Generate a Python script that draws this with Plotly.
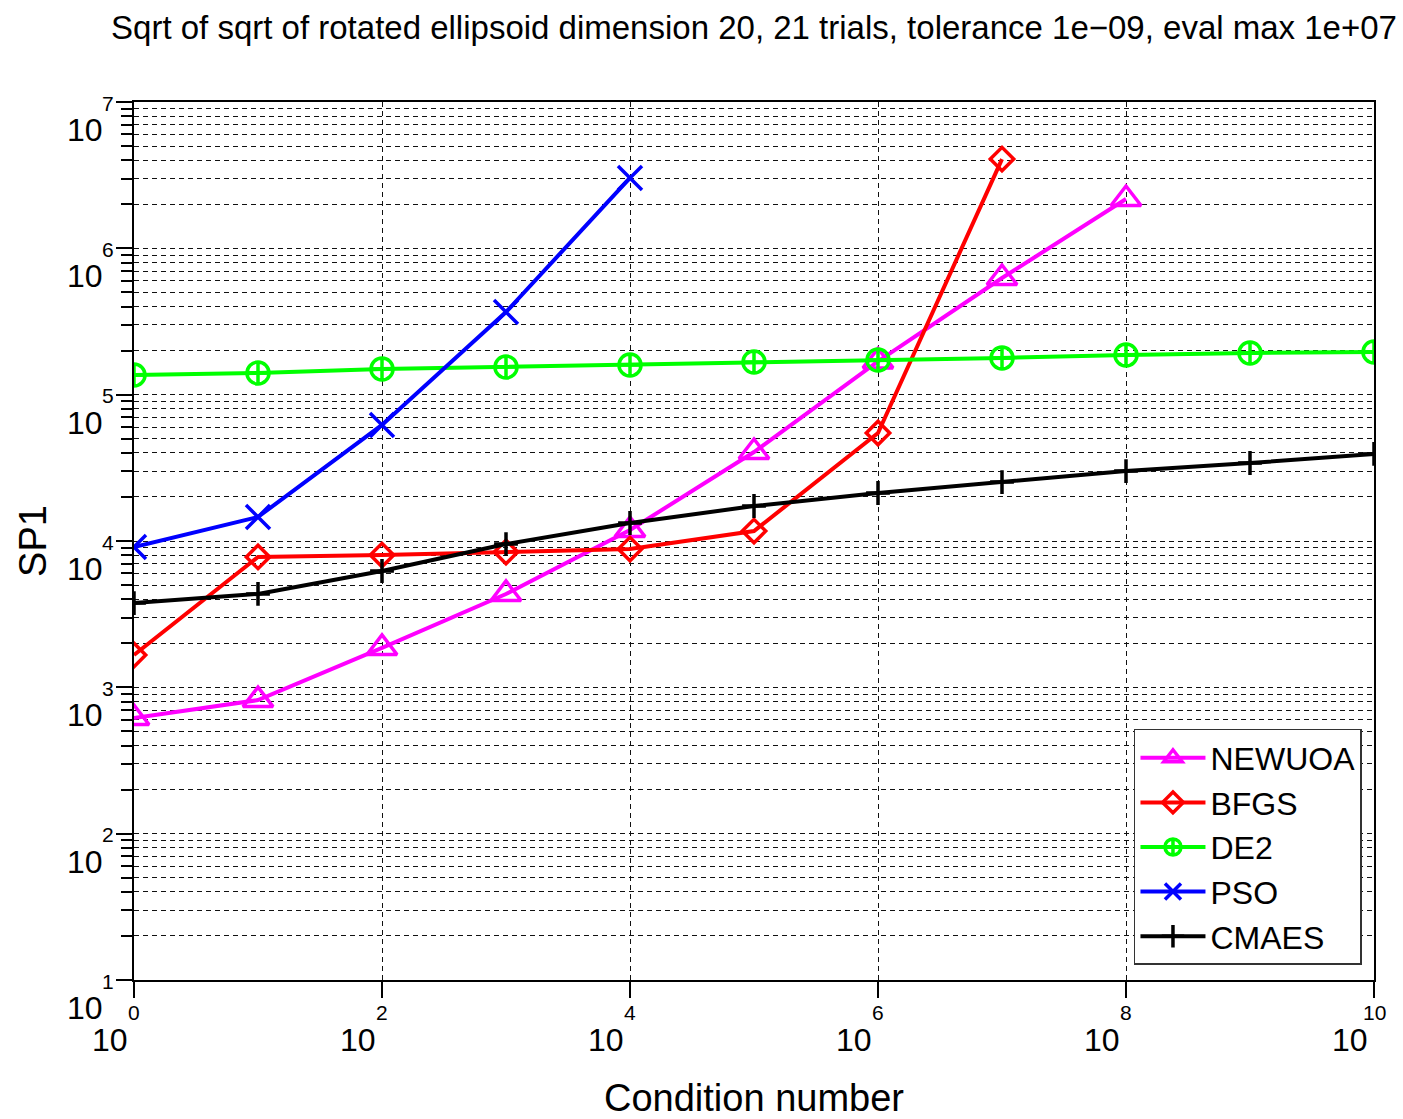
import plotly.graph_objects as go

# ---- data ----
condition = [1e0, 1e1, 1e2, 1e3, 1e4, 1e5, 1e6, 1e7, 1e8, 1e9, 1e10]

newuoa = [617, 818, 1858, 4345, 11885, 40550, 168700, 626600, 2173000]
bfgs = [1663, 7780, 8017, 8414, 8810, 11695, 54700, 4074000]
de2 = [136100, 140600, 149600, 154500, 159600, 167100, 172600, 178200, 186600, 192800, 195900]
pso = [9100, 14590, 62090, 367300, 3027000]
cmaes = [3767, 4345, 6237, 9528, 13270, 17340, 21280, 25290, 30060, 34120, 39360]

series_names = ["NEWUOA", "BFGS", "DE2", "PSO", "CMAES"]
series_values = [newuoa, bfgs, de2, pso, cmaes]
series_colors = ["#FF00FF", "#FF0000", "#00FF00", "#0000FF", "#000000"]
series_symbols = ["triangle-up-open", "diamond-open", "circle-cross-open", "x-thin-open", "cross-thin-open"]
series_sizes = [26, 18, 22, 24, 17]

x_tick_exps = [0, 2, 4, 6, 8, 10]
y_tick_exps = [1, 2, 3, 4, 5, 6, 7]

title_text = "Sqrt of sqrt of rotated ellipsoid dimension 20, 21 trials, tolerance 1e\u221209, eval max 1e+07"
x_title = "Condition number"
y_title = "SP1"

FONT = "Liberation Sans, Arial, Helvetica, sans-serif"

fig = go.Figure()
for name, vals, col, sym, sz in zip(series_names, series_values, series_colors, series_symbols, series_sizes):
    fig.add_trace(go.Scatter(
        x=condition[:len(vals)], y=vals, name=name, mode="lines+markers",
        line=dict(color=col, width=4),
        marker=dict(symbol=sym, size=sz, color=col, line=dict(color=col, width=3.5)),
    ))

grid_col = "#111111"
y_minor = [m * 10 ** e for e in range(1, 7) for m in range(2, 10)]

fig.update_xaxes(
    type="log", range=[0, 10],
    tickvals=[10 ** e for e in x_tick_exps], showticklabels=False,
    ticks="outside", ticklen=16, tickwidth=1.5, tickcolor="black",
    showgrid=True, gridcolor=grid_col, griddash="5px,4px", gridwidth=1.2,
    showline=True, linecolor="black", linewidth=1.8, mirror=True,
    zeroline=False,
    title=dict(text=x_title, font=dict(family=FONT, size=38, color="black"), standoff=93),
    automargin=False,
)
fig.update_yaxes(
    type="log", range=[1, 7],
    tickvals=[10 ** e for e in y_tick_exps], showticklabels=False,
    ticks="outside", ticklen=16, tickwidth=1.5, tickcolor="black",
    showgrid=True, gridcolor=grid_col, griddash="5px,4px", gridwidth=1.2,
    minor=dict(tickmode="array", tickvals=y_minor, ticks="outside", ticklen=11,
               tickwidth=1.5, tickcolor="black", showgrid=True, gridcolor=grid_col,
               griddash="5px,4px", gridwidth=1.2),
    showline=True, linecolor="black", linewidth=1.8, mirror=True,
    zeroline=False,
    title=dict(text=y_title, font=dict(family=FONT, size=38, color="black"), standoff=58),
    automargin=False,
)

annotations = []
for e in x_tick_exps:
    annotations.append(dict(x=e, y=0, xref="x", yref="paper", text="10", showarrow=False,
                            xanchor="center", yanchor="middle", xshift=-24, yshift=-60,
                            font=dict(family=FONT, size=32, color="black")))
    annotations.append(dict(x=e, y=0, xref="x", yref="paper", text=str(e), showarrow=False,
                            xanchor="center", yanchor="middle", yshift=-32,
                            font=dict(family=FONT, size=21, color="black")))
for e in y_tick_exps:
    annotations.append(dict(x=0, y=e, xref="paper", yref="y", text="10", showarrow=False,
                            xanchor="center", yanchor="middle", xshift=-49, yshift=-28,
                            font=dict(family=FONT, size=32, color="black")))
    annotations.append(dict(x=0, y=e, xref="paper", yref="y", text=str(e), showarrow=False,
                            xanchor="center", yanchor="middle", xshift=-26, yshift=-1,
                            font=dict(family=FONT, size=21, color="black")))

fig.update_layout(
    width=1403, height=1119,
    margin=dict(l=134, r=29, t=102, b=139),
    paper_bgcolor="white", plot_bgcolor="white",
    font=dict(family=FONT, color="black"),
    title=dict(text=title_text, x=0.5, xref="paper", xanchor="center",
               y=1 - 27 / 1119, yref="container", yanchor="middle",
               font=dict(family=FONT, size=33, color="black")),
    legend=dict(x=0.9903, y=0.0171, xanchor="right", yanchor="bottom",
                bgcolor="white", bordercolor="#333333", borderwidth=1.5,
                font=dict(family=FONT, size=32, color="black"),
                tracegroupgap=0, itemwidth=65),
    annotations=annotations,
    showlegend=True,
)

fig.write_html("out.html")
